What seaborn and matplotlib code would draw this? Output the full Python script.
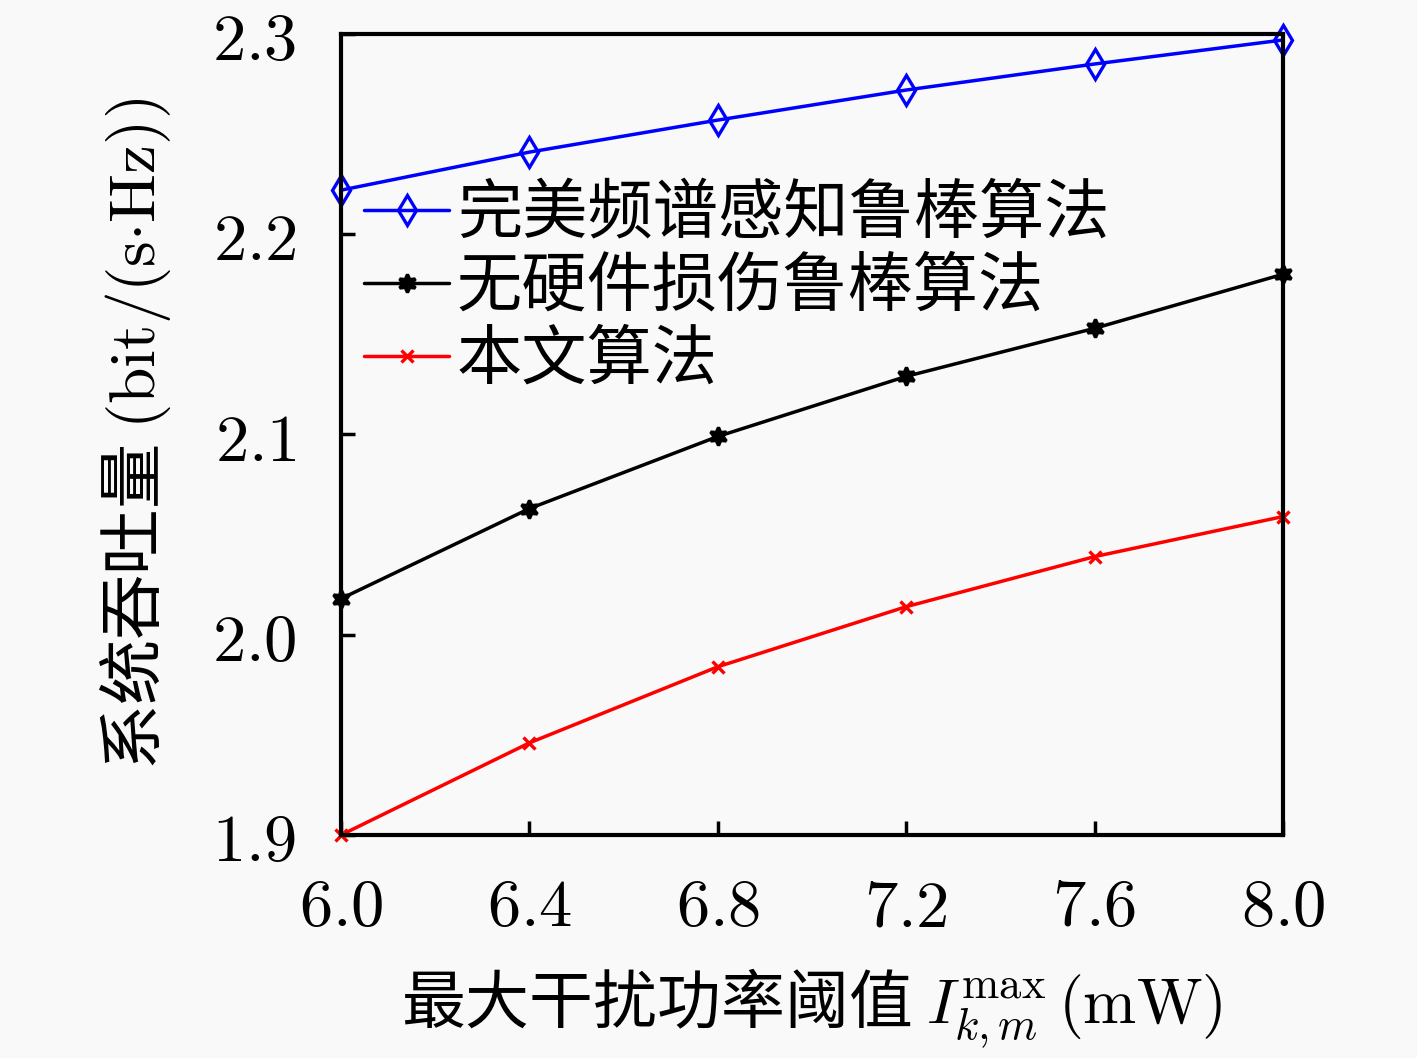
import numpy as np
import pandas as pd
import matplotlib
matplotlib.use("Agg")
import matplotlib.pyplot as plt
from matplotlib.ticker import FuncFormatter
import seaborn as sns

# values
threshold = [6.0, 6.4, 6.8, 7.2, 7.6, 8.0]
perfect_sensing = [2.222, 2.241, 2.257, 2.272, 2.285, 2.297]
no_hw_impair = [2.018, 2.063, 2.099, 2.129, 2.153, 2.180]
proposed = [1.900, 1.946, 1.984, 2.014, 2.039, 2.059]
series_names = ["完美频谱感知鲁棒算法", "无硬件损伤鲁棒算法", "本文算法"]

sns.set_style("ticks")
plt.rcParams["font.family"] = ["Noto Sans CJK SC", "DejaVu Serif"]
plt.rcParams["mathtext.fontset"] = "cm"
plt.rcParams["text.color"] = "black"
plt.rcParams["axes.labelcolor"] = "black"
plt.rcParams["xtick.color"] = "black"
plt.rcParams["ytick.color"] = "black"

df = pd.DataFrame({
    "x": threshold * 3,
    "y": perfect_sensing + no_hw_impair + proposed,
    "alg": [series_names[0]] * 6 + [series_names[1]] * 6 + [series_names[2]] * 6,
})

bg = "#f9f9f9"
fig = plt.figure(figsize=(14.17, 10.58), dpi=100, facecolor=bg)
ax = fig.add_axes([0.2407, 0.2108, 0.6647, 0.7571])
ax.set_facecolor(bg)

colors = ["#0000ff", "#000000", "#ff0000"]
markers = ["d", (6, 1, 0), "x"]
msizes = [15, 13, 8]
for name, c, m, ms in zip(series_names, colors, markers, msizes):
    sub = df[df["alg"] == name]
    fc = "none" if m == "d" else c
    sns.lineplot(data=sub, x="x", y="y", ax=ax, color=c, marker=m, markersize=ms,
                 markerfacecolor=fc, markeredgecolor=c, markeredgewidth=2.4,
                 linewidth=2.5, label=name, clip_on=False)

ax.set_xlim(6.0, 8.0)
ax.set_ylim(1.9, 2.3)
ax.set_xticks(threshold)
ax.set_yticks([1.9, 2.0, 2.1, 2.2, 2.3])
ax.xaxis.set_major_formatter(FuncFormatter(lambda v, p: f"${v:.1f}$"))
ax.yaxis.set_major_formatter(FuncFormatter(lambda v, p: f"${v:.1f}$"))
ax.tick_params(direction="in", length=10, width=2.5, labelsize=48,
               top=False, right=False)
ax.tick_params(axis="x", pad=28)
ax.tick_params(axis="y", pad=32)
for s in ax.spines.values():
    s.set_linewidth(3)
    s.set_color("black")

ax.set_xlabel(r"最大干扰功率阈值 $I_{k,m}^{\max}\,\mathrm{(mW)}$", fontsize=46, labelpad=18)
ax.set_ylabel(r"系统吞吐量 $\mathrm{(bit/(s{\cdot}Hz))}$", fontsize=47, labelpad=28)

leg = ax.legend(loc="upper left", bbox_to_anchor=(-0.024, 0.873), frameon=False,
                fontsize=47, handlelength=1.3, handletextpad=0.12,
                labelspacing=0.1, borderaxespad=0.3)

fig.savefig("out.png", dpi=100, facecolor=bg)
